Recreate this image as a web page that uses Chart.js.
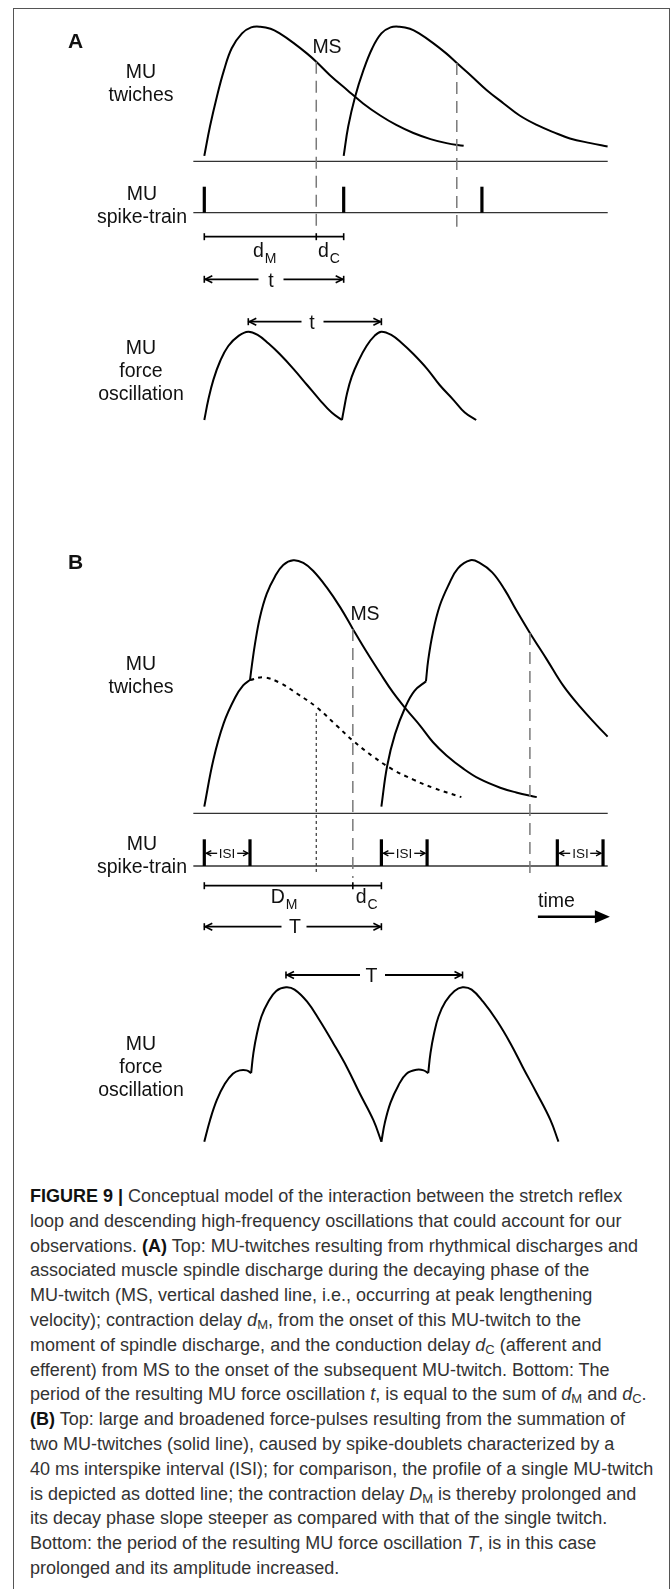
<!DOCTYPE html>
<html>
<head>
<meta charset="utf-8">
<title>Figure 9</title>
<script src="https://cdn.jsdelivr.net/npm/chart.js@4.4.1/dist/chart.umd.min.js"></script>
<style>
  html, body { margin: 0; padding: 0; background: #fff; }
  body { position: relative; width: 672px; height: 1589px; overflow: hidden; font-family: "Liberation Sans", Arial, sans-serif; }
  #frame { position: absolute; left: 13px; top: 8px; width: 657px; height: 1620px; border: 1.5px solid #555; box-sizing: border-box; }
  #fig { position: absolute; left: 0; top: 0; }
  .lbl { position: absolute; white-space: nowrap; color: #111; }
  .sb { font-size: 14px; position: relative; top: 6px; margin-left: 1px; }
  #caption { position: absolute; left: 30px; top: 1184px; font-size: 18px; line-height: 24.8px; color: #333; white-space: nowrap; }
  #caption b { color: #111; }
  #caption sub { font-size: 13px; vertical-align: -3px; line-height: 0; }
</style>
</head>
<body>
<div id="frame"></div>
<canvas id="fig" width="672" height="1170"></canvas>
<div id="labels"></div>
<div id="caption">
<b>FIGURE 9 |</b> Conceptual model of the interaction between the stretch reflex<br>
loop and descending high-frequency oscillations that could account for our<br>
observations. <b>(A)</b> Top: MU-twitches resulting from rhythmical discharges and<br>
associated muscle spindle discharge during the decaying phase of the<br>
MU-twitch (MS, vertical dashed line, i.e., occurring at peak lengthening<br>
velocity); contraction delay <i>d</i><sub>M</sub>, from the onset of this MU-twitch to the<br>
moment of spindle discharge, and the conduction delay <i>d</i><sub>C</sub> (afferent and<br>
efferent) from MS to the onset of the subsequent MU-twitch. Bottom: The<br>
period of the resulting MU force oscillation <i>t</i>, is equal to the sum of <i>d</i><sub>M</sub> and <i>d</i><sub>C</sub>.<br>
<b>(B)</b> Top: large and broadened force-pulses resulting from the summation of<br>
two MU-twitches (solid line), caused by spike-doublets characterized by a<br>
40 ms interspike interval (ISI); for comparison, the profile of a single MU-twitch<br>
is depicted as dotted line; the contraction delay <i>D</i><sub>M</sub> is thereby prolonged and<br>
its decay phase slope steeper as compared with that of the single twitch.<br>
Bottom: the period of the resulting MU force oscillation <i>T</i>, is in this case<br>
prolonged and its amplitude increased.
</div>
<script>
// time in ms from the first spike, force in % of a single twitch peak

// panel A
const twitchA1Time = [0, 5, 11, 17, 24, 33, 41, 49, 58, 66, 78, 90, 98, 110, 125, 139, 154, 168, 183, 198, 212, 227];
const twitchA1Force = [4, 26, 48, 67, 84, 95, 99.5, 100, 98.5, 95, 88, 80, 74, 64, 53, 43, 34, 27, 21, 16.5, 13.5, 11.5];
const twitchA2Time = [122, 126, 132, 139, 147, 155, 163, 171, 180, 188, 200, 212, 221, 233, 247, 262, 276, 291, 306, 320, 338, 353];
const twitchA2Force = [4, 26, 48, 67, 84, 95, 99.5, 100, 98.5, 95, 88, 80, 73, 64, 53, 43, 34, 27, 21.5, 17, 13.5, 11];
const spikesA = [0, 122, 243];
const spindleA = [98, 221];
const forceA1Time = [0, 3.5, 8, 14, 21, 30, 38.5, 47, 56, 66, 78, 90, 101, 111.5, 120.5];
const forceA1Force = [0, 15, 30, 44, 55, 62.5, 65.6, 63, 57, 49, 38, 26, 15, 5.5, 0];
const forceA2Time = [120.5, 122, 125, 129, 135, 142, 149, 155, 164, 173, 183, 195, 206, 218, 228, 238];
const forceA2Force = [0, 7, 20, 32, 44, 55, 62.5, 65.6, 63, 57, 49, 38, 26, 15, 5.5, 0];

// panel B
const spikesB = [0, 40, 155, 195, 309, 349];
const spindleB = [130, 285];
const singleTwitchB = 98;
const riseB1Time = [0, 8, 17, 27, 34, 40];
const riseB1Force = [5, 40, 67, 86, 95, 99];
const twitchB1Time = [40, 41.5, 44.4, 48.8, 54.6, 61.9, 69.1, 77.9, 86.7, 95.4, 107, 119, 130, 142, 154, 165, 177, 189, 200, 212, 227, 241, 259, 273, 291];
const twitchB1Force = [99, 109, 126, 146, 163, 176, 184.5, 188, 186, 180, 168, 153, 137, 120, 104, 90, 77, 65, 53, 43, 33, 25.5, 19, 15.5, 12];
const singleBTime = [40, 52, 66, 81, 98, 116, 130, 148, 165, 183, 200, 225];
const singleBForce = [99, 101, 97, 89, 79, 65, 54, 42, 32.5, 25, 19, 12];
const riseB2Time = [155, 160, 167, 176, 184, 194];
const riseB2Force = [5, 35, 59, 79, 91, 98];
const twitchB2Time = [194, 196, 200, 206, 214, 222, 233, 241, 252, 263, 273, 285, 300, 314, 329, 344, 353];
const twitchB2Force = [98, 114, 134, 154, 170, 182, 188, 186, 179, 166, 151, 134, 114, 95, 79, 65, 57];
const forceRiseB1Time = [0, 5, 11, 18, 25, 31, 37, 41];
const forceRiseB1Force = [0, 16, 31, 43, 50.5, 53, 53, 51];
const forceB1Time = [41, 43, 46, 50, 56, 63, 71.5, 79, 90, 101, 113, 125, 136, 148, 155];
const forceB1Force = [51, 66, 80, 93, 104, 112, 114.7, 113, 104, 90, 73, 55, 36, 16, 0];
const forceRiseB2Time = [155, 158, 163, 170, 177, 186, 192, 196];
const forceRiseB2Force = [0, 14, 29, 42, 50.5, 53.5, 53, 51];
const forceB2Time = [196, 198, 201, 205, 211, 219, 226, 234, 244, 256, 268, 279, 291, 303, 310];
const forceB2Force = [51, 66, 80, 93, 104, 112, 114.7, 113, 104, 90, 73, 55, 36, 16, 0];

// layout
const W = 672, H = 1170;
const PX_PER_MS = 1.1425, PX_PER_PCT = 1.346, T0_PX = 204.3;
const ROW_PX = { aTw: 161.3, aSp: 212.7, aF: 420, bTw: 813.3, bSp: 866, bF: 1141.7 };
const LINE_FROM = -9.6, LINE_TO = 353.1;
const TIME_FROM = 292, TIME_TO = 355;

const shift = row => -(ROW_PX[row] - ROW_PX.aTw) / PX_PER_PCT;

function curve(times, forces, row, dash) {
  return {
    data: times.map((t, i) => ({ x: t, y: forces[i] + shift(row) })),
    showLine: true,
    borderColor: '#000',
    borderWidth: 2,
    borderDash: dash || [],
    pointRadius: 0,
    fill: false,
    tension: 0.4
  };
}

function interp(times, forces, t) {
  for (let i = 1; i < times.length; i++) {
    if (t <= times[i]) {
      const k = (t - times[i - 1]) / (times[i] - times[i - 1]);
      return forces[i - 1] + k * (forces[i] - forces[i - 1]);
    }
  }
  return forces[forces.length - 1];
}

function peakTime(times, forces) {
  return times[forces.indexOf(Math.max(...forces))];
}

const diagram = {
  id: 'diagram',
  afterDatasetsDraw(chart) {
    const ctx = chart.ctx, xs = chart.scales.x, ys = chart.scales.y;
    const X = t => xs.getPixelForValue(t);
    const Y = (row, f) => ys.getPixelForValue(f + shift(row));

    function line(x1, y1, x2, y2, w, color, dash) {
      ctx.beginPath();
      ctx.setLineDash(dash || []);
      ctx.lineWidth = w;
      ctx.strokeStyle = color || '#000';
      ctx.moveTo(x1, y1);
      ctx.lineTo(x2, y2);
      ctx.stroke();
      ctx.setLineDash([]);
    }
    function head(x, y, dir, len, half, w) {
      ctx.beginPath();
      ctx.lineWidth = w;
      ctx.strokeStyle = '#000';
      ctx.moveTo(x - dir * len, y - half);
      ctx.lineTo(x, y);
      ctx.lineTo(x - dir * len, y + half);
      ctx.stroke();
    }
    function span(x1, x2, y, gap, mid) {
      mid = mid || (x1 + x2) / 2;
      line(x1, y, mid - gap, y, 1.8);
      line(mid + gap, y, x2, y, 1.8);
      head(x1 + 1, y, -1, 7, 3.5, 1.6);
      head(x2 - 1, y, 1, 7, 3.5, 1.6);
      line(x1, y - 3.5, x1, y + 3.5, 1.6);
      line(x2, y - 3.5, x2, y + 3.5, 1.6);
    }
    function bracket(xa, xb, xc, y) {
      line(xa, y, xc, y, 1.8);
      [xa, xb, xc].forEach(x => line(x, y - 3.5, x, y + 3.5, 1.6));
    }
    function spikes(list, row, h) {
      list.forEach(t => line(X(t), Y(row, 0), X(t), Y(row, 0) - h, 3.2));
    }

    ctx.save();
    ctx.lineCap = 'butt';

    // baselines
    ['aTw', 'aSp', 'bTw', 'bSp'].forEach(r => line(X(LINE_FROM), Y(r, 0), X(LINE_TO), Y(r, 0), 1.3, '#333'));

    // panel A
    spikes(spikesA, 'aSp', 26);
    line(X(spindleA[0]), Y('aTw', interp(twitchA1Time, twitchA1Force, spindleA[0])), X(spindleA[0]), Y('aSp', 0) + 14, 1.5, '#7a7a7a', [12, 7]);
    line(X(spindleA[1]), Y('aTw', interp(twitchA2Time, twitchA2Force, spindleA[1])), X(spindleA[1]), Y('aSp', 0) + 14, 1.5, '#7a7a7a', [12, 7]);
    bracket(X(spikesA[0]), X(spindleA[0]), X(spikesA[1]), Y('aSp', 0) + 24);
    span(X(spikesA[0]), X(spikesA[1]), Y('aSp', 0) + 66.6, 12.5, 271);
    span(X(peakTime(forceA1Time, forceA1Force)), X(peakTime(forceA2Time, forceA2Force)), Y('aF', 0) - 98.3, 11, 312.5);

    // panel B
    spikes(spikesB, 'bSp', 26.7);
    line(X(spindleB[0]), Y('bTw', interp(twitchB1Time, twitchB1Force, spindleB[0])), X(spindleB[0]), Y('bSp', 0) + 12, 1.5, '#7a7a7a', [12, 7]);
    line(X(spindleB[1]), Y('bTw', interp(twitchB2Time, twitchB2Force, spindleB[1])), X(spindleB[1]), Y('bSp', 0) + 12, 1.5, '#7a7a7a', [12, 7]);
    line(X(singleTwitchB), Y('bTw', interp(singleBTime, singleBForce, singleTwitchB)) + 6, X(singleTwitchB), Y('bSp', 0) + 6, 1.2, '#333', [3, 3]);
    for (let i = 0; i < spikesB.length; i += 2) {
      const x1 = X(spikesB[i]) + 2, x2 = X(spikesB[i + 1]) - 2, y = Y('bSp', 0) - 12.7;
      const mid = (x1 + x2) / 2;
      line(x1, y, mid - 10, y, 1.3);
      line(mid + 10, y, x2, y, 1.3);
      head(x1, y, -1, 5, 2.6, 1.3);
      head(x2, y, 1, 5, 2.6, 1.3);
    }
    bracket(X(spikesB[0]), X(spindleB[0]), X(spikesB[2]), Y('bSp', 0) + 19.7);
    span(X(spikesB[0]), X(spikesB[2]), Y('bSp', 0) + 60.7, 12.5, 294);
    span(X(peakTime(forceB1Time, forceB1Force)), X(peakTime(forceB2Time, forceB2Force)), Y('bF', 0) - 166.7, 12.5, 372.5);

    // time arrow
    const ty = Y('bSp', 0) + 50.7;
    line(X(TIME_FROM), ty, X(TIME_TO) - 12, ty, 2.6);
    ctx.beginPath();
    ctx.fillStyle = '#000';
    ctx.moveTo(X(TIME_TO), ty);
    ctx.lineTo(X(TIME_TO) - 15, ty - 6.5);
    ctx.lineTo(X(TIME_TO) - 15, ty + 6.5);
    ctx.closePath();
    ctx.fill();

    ctx.restore();
  }
};

new Chart(document.getElementById('fig'), {
  type: 'scatter',
  data: {
    datasets: [
      curve(twitchA1Time, twitchA1Force, 'aTw'),
      curve(twitchA2Time, twitchA2Force, 'aTw'),
      curve(forceA1Time, forceA1Force, 'aF'),
      curve(forceA2Time, forceA2Force, 'aF'),
      curve(riseB1Time, riseB1Force, 'bTw'),
      curve(twitchB1Time, twitchB1Force, 'bTw'),
      curve(singleBTime, singleBForce, 'bTw', [4, 4.5]),
      curve(riseB2Time, riseB2Force, 'bTw'),
      curve(twitchB2Time, twitchB2Force, 'bTw'),
      curve(forceRiseB1Time, forceRiseB1Force, 'bF'),
      curve(forceB1Time, forceB1Force, 'bF'),
      curve(forceRiseB2Time, forceRiseB2Force, 'bF'),
      curve(forceB2Time, forceB2Force, 'bF')
    ]
  },
  options: {
    responsive: false,
    animation: false,
    events: [],
    layout: { padding: 0 },
    scales: {
      x: { type: 'linear', display: false, min: -T0_PX / PX_PER_MS, max: (W - T0_PX) / PX_PER_MS },
      y: { type: 'linear', display: false, min: (ROW_PX.aTw - H) / PX_PER_PCT, max: ROW_PX.aTw / PX_PER_PCT }
    },
    plugins: { legend: { display: false }, tooltip: { enabled: false } }
  },
  plugins: [diagram]
});

// figure labels: html, x, baseline, align, size, bold
const labelLayout = [
  ['A', 68, 48, 'left', 21, true],
  ['MU', 141, 78], ['twiches', 141, 101],
  ['MS', 327, 53],
  ['MU', 142, 200], ['spike-train', 142, 223],
  ['d<span class="sb">M</span>', 253, 257, 'left'],
  ['d<span class="sb">C</span>', 318, 257, 'left'],
  ['t', 271, 287], ['t', 312, 329],
  ['MU', 141, 354], ['force', 141, 377], ['oscillation', 141, 400],
  ['B', 68, 569, 'left', 21, true],
  ['MS', 365, 620],
  ['MU', 141, 670], ['twiches', 141, 693],
  ['MU', 142, 850], ['spike-train', 142, 873],
  ['ISI', 227, 858, 'center', 13.5], ['ISI', 404, 858, 'center', 13.5], ['ISI', 580.5, 858, 'center', 13.5],
  ['D<span class="sb">M</span>', 270.7, 903, 'left'],
  ['d<span class="sb">C</span>', 355.7, 903, 'left'],
  ['time', 538, 906.7, 'left'],
  ['T', 295, 933], ['T', 371.5, 982],
  ['MU', 141, 1050], ['force', 141, 1073], ['oscillation', 141, 1096]
];

const holder = document.getElementById('labels');
labelLayout.forEach(([html, x, base, align, size, bold]) => {
  const fs = size || 19.5;
  const el = document.createElement('div');
  el.className = 'lbl';
  el.innerHTML = html;
  el.style.fontSize = fs + 'px';
  el.style.lineHeight = (fs * 1.15) + 'px';
  el.style.top = (base - fs * 0.906) + 'px';
  el.style.left = x + 'px';
  if (bold) el.style.fontWeight = 'bold';
  if ((align || 'center') === 'center') el.style.transform = 'translateX(-50%)';
  holder.appendChild(el);
});
</script>
</body>
</html>
